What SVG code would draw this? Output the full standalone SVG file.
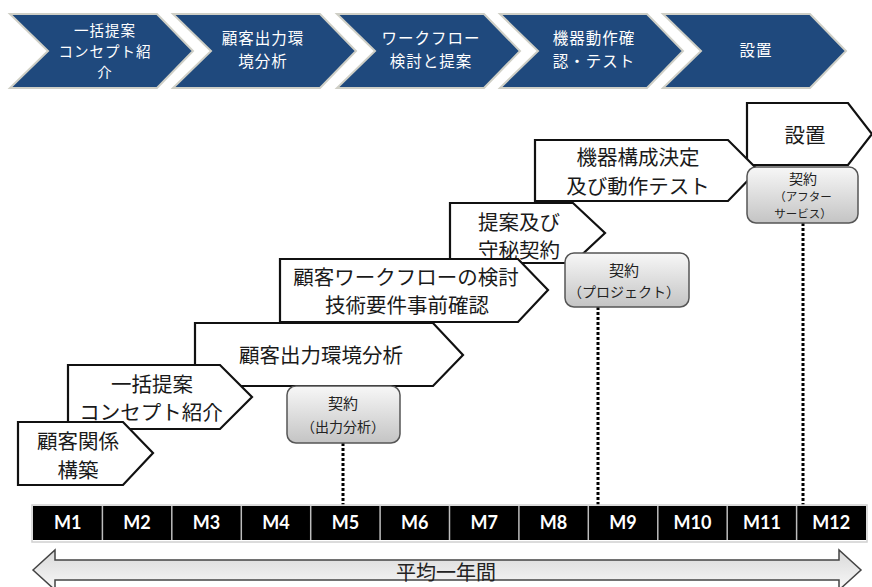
<svg xmlns="http://www.w3.org/2000/svg" width="872" height="587" viewBox="0 0 872 587">
<defs>
<style>
.chev{fill:#1f497d;stroke:#cfcfc6;stroke-width:2}
.ct{font-family:"Noto Sans CJK JP","Noto Sans",sans-serif;font-size:15.5px;fill:#ffffff;text-anchor:middle;letter-spacing:1px}
.ct1{font-family:"Noto Sans CJK JP","Noto Sans",sans-serif;font-size:14.5px;fill:#ffffff;text-anchor:middle;letter-spacing:1px}
.step{fill:#ffffff;stroke:#111;stroke-width:2.2;stroke-linejoin:miter}
.st{font-family:"Noto Sans CJK JP","Noto Sans",sans-serif;font-size:20.5px;fill:#1a1a1a;text-anchor:middle}
.box{fill:url(#gbox);stroke:#555;stroke-width:1.5}
.bt{font-family:"Noto Sans CJK JP","Noto Sans",sans-serif;font-size:14px;fill:#222;text-anchor:middle}
.bt2{font-family:"Noto Sans CJK JP","Noto Sans",sans-serif;font-size:11.5px;fill:#222;text-anchor:middle}
.dot{stroke:#000;stroke-width:3;stroke-dasharray:3 2;fill:none}
.mt{font-family:Lato,"Liberation Sans",sans-serif;font-weight:bold;font-size:18px;fill:#fff;text-anchor:middle}
.sep{stroke:#bdbdbd;stroke-width:1.5}
</style>
<linearGradient id="gbox" x1="0" y1="0" x2="0" y2="1">
<stop offset="0" stop-color="#f7f7f7"/>
<stop offset="1" stop-color="#c4c4c4"/>
</linearGradient>
<linearGradient id="garr" x1="0" y1="0" x2="0" y2="1">
<stop offset="0" stop-color="#d9d9d9"/>
<stop offset="1" stop-color="#f8f8f8"/>
</linearGradient>
</defs>

<!-- top process chevrons -->
<g id="chev1">
<polygon class="chev" points="10,14 157,14 193,51 157,88 10,88 48,51"/>
<text class="ct1" x="105" y="36">一括提案</text>
<text class="ct1" x="105" y="57">コンセプト紹</text>
<text class="ct1" x="105" y="78">介</text>
</g>
<g id="chev2">
<polygon class="chev" points="173,14 320,14 356,51 320,88 173,88 211,51"/>
<text class="ct" x="263" y="44">顧客出力環</text>
<text class="ct" x="263" y="67">境分析</text>
</g>
<g id="chev3">
<polygon class="chev" points="337,14 484,14 520,51 484,88 337,88 375,51"/>
<text class="ct" x="431" y="44">ワークフロー</text>
<text class="ct" x="431" y="67">検討と提案</text>
</g>
<g id="chev4">
<polygon class="chev" points="500,14 647,14 683,51 647,88 500,88 538,51"/>
<text class="ct" x="594" y="44">機器動作確</text>
<text class="ct" x="594" y="67">認・テスト</text>
</g>
<g id="chev5">
<polygon class="chev" points="663,14 810,14 846,51 810,88 663,88 701,51"/>
<text class="ct" x="756" y="56">設置</text>
</g>

<!-- staircase steps (back to front) -->
<g id="step7">
<polygon class="step" points="747,103 848,103 872,134 848,165 747,165"/>
<text class="st" x="805" y="143">設置</text>
</g>
<g id="step6">
<polygon class="step" points="535,140 728,140 758,170 728,201 535,201"/>
<text class="st" x="638" y="165">機器構成決定</text>
<text class="st" x="638" y="194">及び動作テスト</text>
</g>
<g id="step5">
<polygon class="step" points="450,203 573,203 605,233 573,263 450,263"/>
<text class="st" x="519" y="230">提案及び</text>
<text class="st" x="519" y="258">守秘契約</text>
</g>
<g id="step4">
<polygon class="step" points="280,259 518,259 548,290 518,322 280,322"/>
<text class="st" x="406" y="285">顧客ワークフローの検討</text>
<text class="st" x="407" y="313">技術要件事前確認</text>
</g>
<g id="step3">
<polygon class="step" points="195,323 433,323 463,355 433,386 195,386"/>
<text class="st" x="321" y="363">顧客出力環境分析</text>
</g>
<g id="step2">
<polygon class="step" points="68,365 220,365 252,397 220,429 68,429"/>
<text class="st" x="152" y="392">一括提案</text>
<text class="st" x="151" y="420">コンセプト紹介</text>
</g>
<g id="step1">
<polygon class="step" points="18,422 123,422 153,453 123,485 18,485"/>
<text class="st" x="78" y="449">顧客関係</text>
<text class="st" x="78" y="478">構築</text>
</g>

<!-- connectors -->
<g id="connectors">
<line class="dot" x1="343" y1="443" x2="343" y2="505"/>
<line class="dot" x1="598" y1="307" x2="598" y2="505"/>
<line class="dot" x1="803" y1="223" x2="803" y2="505"/>
</g>

<!-- contract boxes -->
<g id="contractA">
<rect class="box" x="287" y="386" width="113" height="57" rx="9"/>
<text class="bt" x="343" y="409" style="font-size:15px">契約</text>
<text class="bt" x="343" y="432">（出力分析）</text>
</g>
<g id="contractB">
<rect class="box" x="565" y="253" width="124" height="54" rx="9"/>
<text class="bt" x="624" y="276" style="font-size:15px">契約</text>
<text class="bt" x="624" y="297">（プロジェクト）</text>
</g>
<g id="contractC">
<rect class="box" x="747" y="167" width="111" height="56" rx="9"/>
<text class="bt" x="803" y="184" style="font-size:14px">契約</text>
<text class="bt2" x="803" y="201">（アフター</text>
<text class="bt2" x="803" y="218">サービス）</text>
</g>

<!-- timeline -->
<g id="timeline">
<rect x="32" y="505" width="835" height="37" fill="none" stroke="#d0d0d0" stroke-width="1.5"/>
<rect x="33" y="506" width="833" height="34" fill="#000"/>
<line class="sep" x1="102.4" y1="506" x2="102.4" y2="540"/>
<line class="sep" x1="171.8" y1="506" x2="171.8" y2="540"/>
<line class="sep" x1="241.3" y1="506" x2="241.3" y2="540"/>
<line class="sep" x1="310.7" y1="506" x2="310.7" y2="540"/>
<line class="sep" x1="380.1" y1="506" x2="380.1" y2="540"/>
<line class="sep" x1="449.5" y1="506" x2="449.5" y2="540"/>
<line class="sep" x1="518.9" y1="506" x2="518.9" y2="540"/>
<line class="sep" x1="588.3" y1="506" x2="588.3" y2="540"/>
<line class="sep" x1="657.8" y1="506" x2="657.8" y2="540"/>
<line class="sep" x1="727.2" y1="506" x2="727.2" y2="540"/>
<line class="sep" x1="796.6" y1="506" x2="796.6" y2="540"/>
<text class="mt" x="67.7" y="529">M1</text>
<text class="mt" x="137.1" y="529">M2</text>
<text class="mt" x="206.5" y="529">M3</text>
<text class="mt" x="276" y="529">M4</text>
<text class="mt" x="345.4" y="529">M5</text>
<text class="mt" x="414.8" y="529">M6</text>
<text class="mt" x="484.2" y="529">M7</text>
<text class="mt" x="553.6" y="529">M8</text>
<text class="mt" x="623" y="529">M9</text>
<text class="mt" x="692.5" y="529">M10</text>
<text class="mt" x="761.9" y="529">M11</text>
<text class="mt" x="831.3" y="529">M12</text>
</g>

<!-- duration arrow -->
<g id="duration">
<polygon points="33,570 55,550 55,560 839,560 839,550 861,570 839,590 839,580 55,580 55,590" fill="url(#garr)" stroke="#444" stroke-width="1.5"/>
<text x="446" y="580" style="font-family:'Noto Sans CJK JP','Noto Sans',sans-serif;font-size:20px;fill:#222;text-anchor:middle">平均一年間</text>
</g>
</svg>
